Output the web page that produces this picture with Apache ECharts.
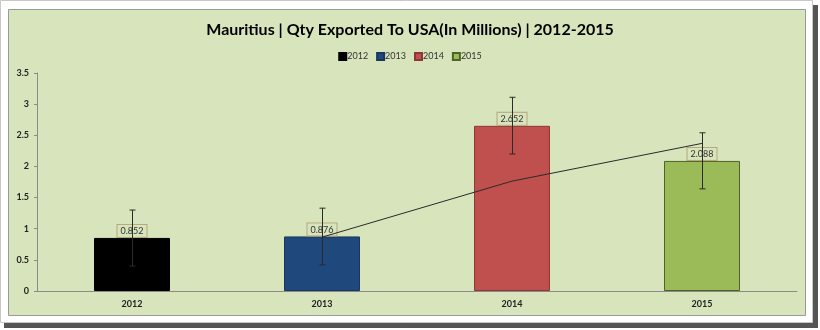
<!DOCTYPE html>
<html><head><meta charset="utf-8">
<script src="https://cdn.jsdelivr.net/npm/echarts@6/dist/echarts.min.js"></script>
<style>html,body{margin:0;padding:0;background:#fff}#c{width:820px;height:330px}</style>
</head><body><div id="c"></div>
<script>
const categories = ['2012', '2013', '2014', '2015'];
const values = [0.852, 0.876, 2.652, 2.088];
const errLow = [0.40, 0.42, 2.20, 1.64];
const errHigh = [1.30, 1.33, 3.11, 2.54];
const movingAvg = [null, 0.864, 1.764, 2.37];
const barColors = ['#000000', '#1F497D', '#C0504D', '#9BBB59'];
const barBorders = ['#000000', '#17375E', '#8C3836', '#4F6228'];
const yTicks = [0, 0.5, 1, 1.5, 2, 2.5, 3, 3.5];

const chart = echarts.init(document.getElementById('c'), null, {renderer: 'canvas'});
const font = 'Lato, "Open Sans", sans-serif';

const barSeries = categories.map((c, i) => ({
  name: c,
  type: 'bar',
  stack: 'all',
  barWidth: '40%',
  data: categories.map((_, j) => j === i ? values[i] : null),
  itemStyle: {color: barColors[i], borderColor: barBorders[i], borderWidth: 1},
  label: {
    show: true, position: 'top', distance: 1,
    fontFamily: font, fontSize: 9, color: '#333',
    backgroundColor: '#D8E4BC', borderColor: '#B5A67C', borderWidth: 1,
    padding: [2, 3, 1, 3],
    formatter: p => p.value == null ? '' : String(p.value)
  },
  z: 2
}));

const option = {
  animation: false,
  backgroundColor: '#ffffff',
  graphic: [
    {type: 'rect', shape: {x: 4, y: 5, width: 814, height: 323}, style: {fill: '#555'}, z: -10},
    {type: 'rect', shape: {x: 0.5, y: 0.5, width: 812, height: 322}, style: {fill: '#fff', stroke: '#c8c8c8', lineWidth: 1}, z: -9},
    {type: 'rect', shape: {x: 8.5, y: 9.5, width: 797, height: 306}, style: {fill: '#D8E4BC', stroke: '#9a9a9a', lineWidth: 1}, z: -8}
  ],
  title: {
    text: 'Mauritius | Qty Exported To USA(In Millions) | 2012-2015',
    left: 'center', top: 17,
    textStyle: {fontFamily: font, fontWeight: 'bold', fontSize: 16, color: '#000'}
  },
  legend: {
    top: 47, left: 'center',
    itemWidth: 7, itemHeight: 7, itemGap: 8,
    icon: 'rect',
    textStyle: {fontFamily: font, fontSize: 9, color: '#333', padding: [0, 0, 0, -4]},
    data: categories
  },
  grid: {left: 37, right: 23, top: 73, bottom: 39, containLabel: false},
  xAxis: {
    type: 'category', data: categories,
    axisLine: {lineStyle: {color: '#8a8a8a', width: 1}},
    axisTick: {show: false},
    axisLabel: {fontFamily: font, fontWeight: 'bold', fontSize: 9, color: '#222', margin: 9}
  },
  yAxis: {
    type: 'value', min: yTicks[0], max: yTicks[yTicks.length - 1], interval: 0.5,
    axisLine: {show: true, lineStyle: {color: '#8a8a8a', width: 1}},
    axisTick: {show: true, length: 3, lineStyle: {color: '#8a8a8a'}},
    splitLine: {show: false},
    axisLabel: {fontFamily: font, fontWeight: 'bold', fontSize: 9, color: '#222', margin: 8}
  },
  series: [
    ...barSeries,
    {
      type: 'line', name: 'avg', data: movingAvg,
      symbol: 'none', lineStyle: {color: '#2a2a2a', width: 1}, z: 8,
      silent: true
    },
    {
      type: 'custom', name: 'err',
      data: categories.map((c, i) => [i, errLow[i], errHigh[i]]),
      renderItem: (params, api) => {
        const lo = api.coord([api.value(0), api.value(1)]);
        const hi = api.coord([api.value(0), api.value(2)]);
        const x = Math.round(lo[0]) + 0.5;
        const style = {stroke: '#2a2a2a', lineWidth: 1};
        return {type: 'group', children: [
          {type: 'line', shape: {x1: x, y1: lo[1], x2: x, y2: hi[1]}, style},
          {type: 'line', shape: {x1: x - 3, y1: lo[1], x2: x + 3, y2: lo[1]}, style},
          {type: 'line', shape: {x1: x - 3, y1: hi[1], x2: x + 3, y2: hi[1]}, style}
        ]};
      },
      z: 10, silent: true
    }
  ]
};
chart.setOption(option);
</script></body></html>
